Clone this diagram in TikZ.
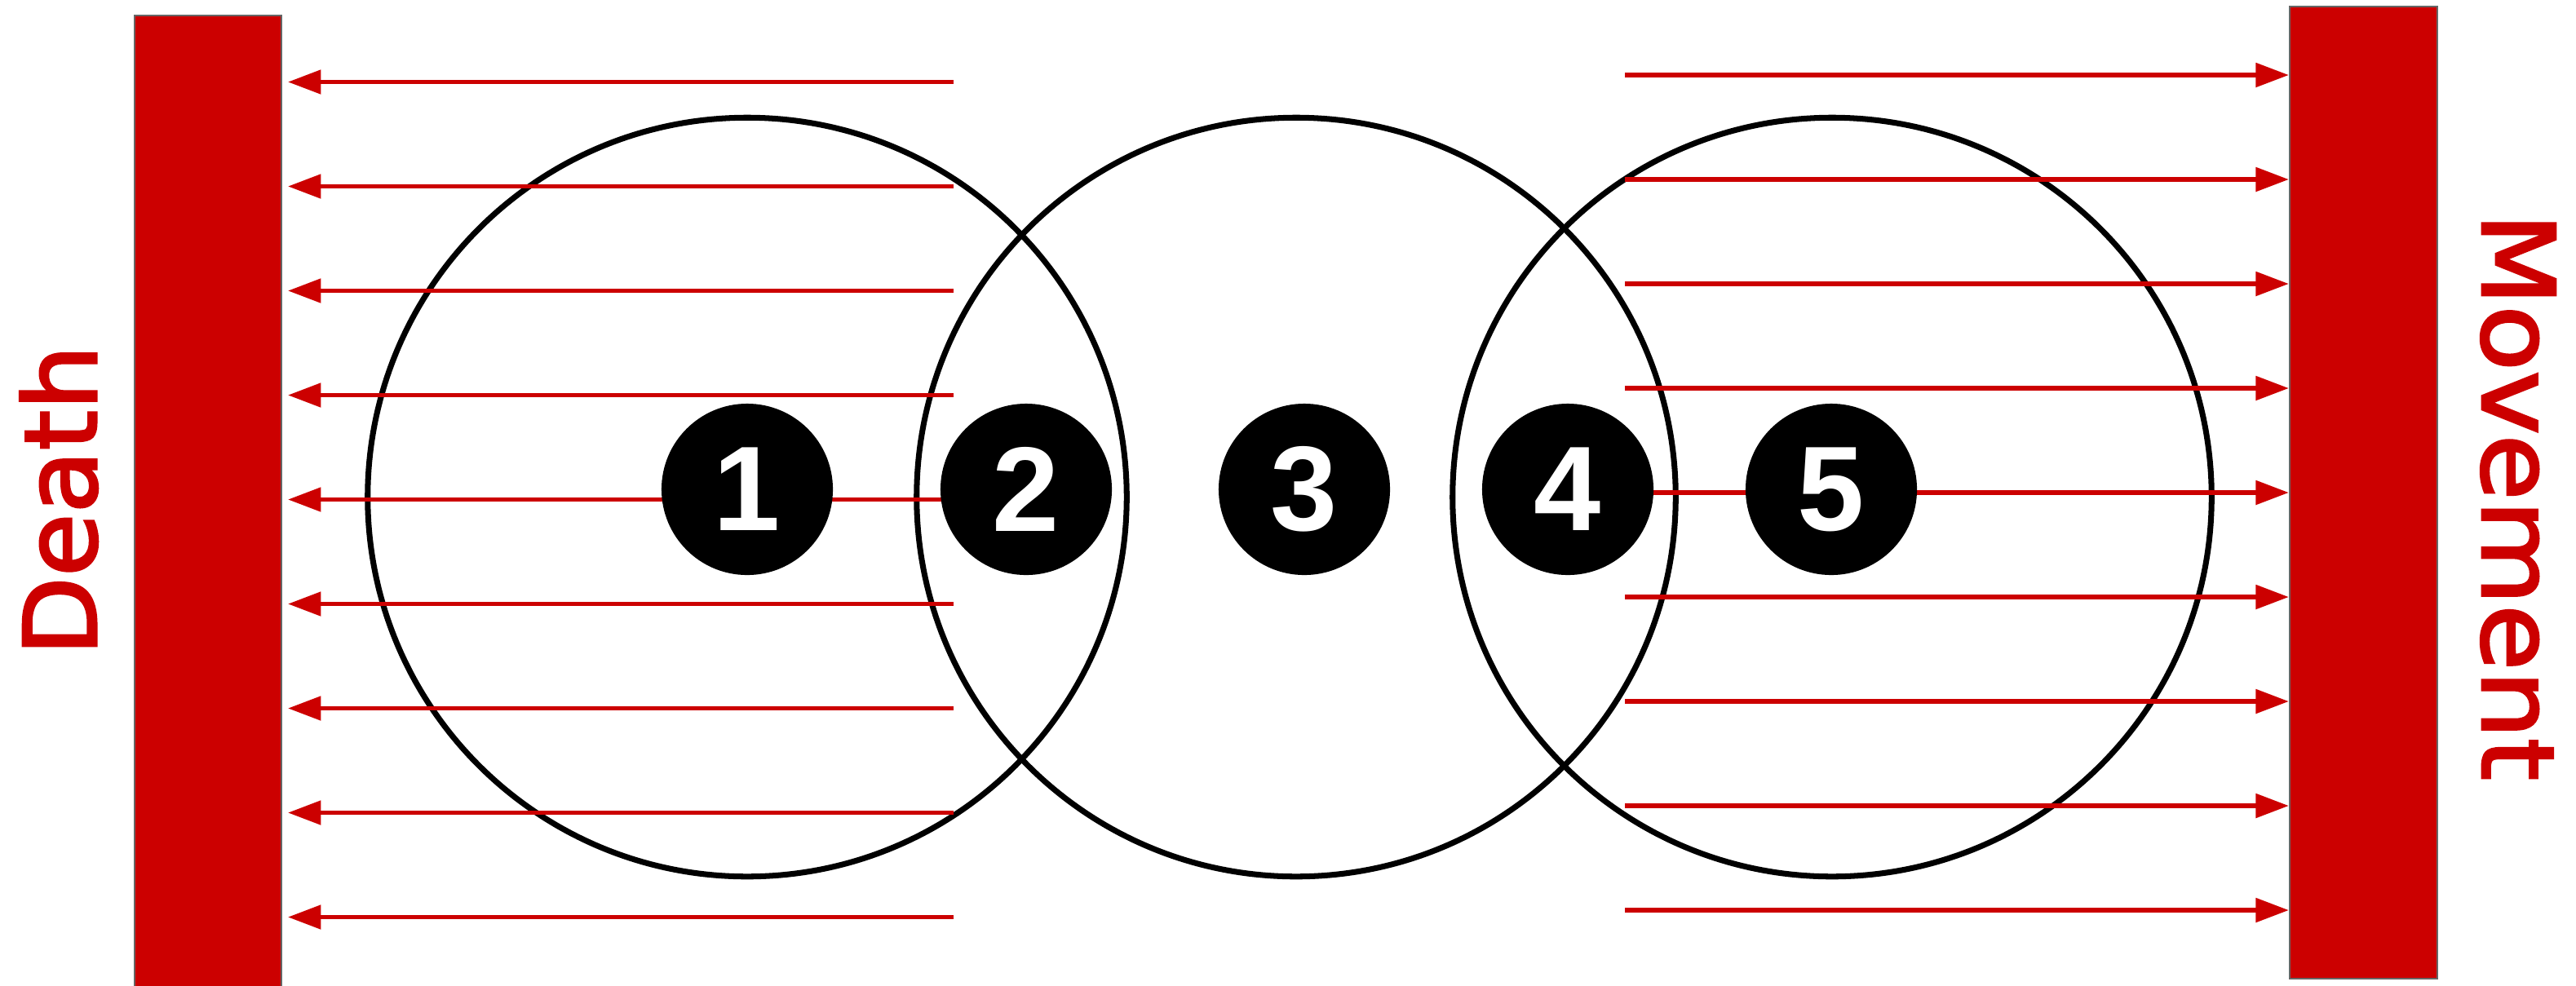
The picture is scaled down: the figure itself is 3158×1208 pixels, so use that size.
\documentclass[tikz,border=0pt]{standalone}
\usepackage{fontspec}
\newfontfamily\labelfont[FakeBold=2.5]{DejaVu Sans}
\newfontfamily\numfont{Liberation Sans}
\usetikzlibrary{arrows.meta}
\definecolor{myred}{HTML}{CC0000}
\definecolor{bargray}{HTML}{666666}
\begin{document}
\begin{tikzpicture}[x=0.01cm, y=-0.01cm,
  bigcirc/.style={circle, draw=black, line width=2pt, minimum size=9.3cm, inner sep=0pt},
  numcirc/.style={circle, fill=black, minimum size=2.1cm, inner sep=0pt, text=white,
    font=\numfont\bfseries\fontsize{42}{42}\selectfont},
  bar/.style={rectangle, fill=myred, draw=bargray, line width=0.6pt, inner sep=0pt},
  arr/.style={draw=myred, line width=1.6pt, -{Triangle[length=11.5pt, width=8.2pt]}},
  side/.style={text=myred, font=\labelfont\fontsize{35}{35}\selectfont, inner sep=0pt, anchor=base}]
\useasboundingbox (0,0) rectangle (3158,1208);
% bars
\node[bar, minimum width=1.8cm, minimum height=11.96cm] (lb) at (255,617) {};
\node[bar, minimum width=1.81cm, minimum height=11.92cm] (rb) at (2897.5,604) {};
% big circles
\node[bigcirc] (c1) at (916,609.5) {};
\node[bigcirc] (c2) at (1589,609.5) {};
\node[bigcirc] (c3) at (2246,609.5) {};
% arrows
\foreach \i in {0,...,8} {
  \pgfmathsetmacro\yl{100.5+128*\i}
  \coordinate (lstart\i) at (1169,\yl);
  \coordinate (lend\i) at (353,\yl);
  \draw[arr] (lstart\i) -- (lend\i);
  \pgfmathsetmacro\yr{92+128*\i}
  \coordinate (rstart\i) at (1992,\yr);
  \draw[arr] (rstart\i) -- (rstart\i -| rb.west);
}
% numbered discs
\node[numcirc] (n1) at (916,600) {1};
\node[numcirc] (n2) at (1258,600) {2};
\node[numcirc] (n3) at (1599,600) {3};
\node[numcirc] (n4) at (1922,600) {4};
\node[numcirc] (n5) at (2245,600) {5};
% side labels
\node[side, rotate=90] (death) at (118,613.5) {\scalebox{1.024}[1]{Death}};
\node[side, rotate=-90] (move) at (3043,609) {\scalebox{1.067}[1]{Movement}};
\end{tikzpicture}
\end{document}
